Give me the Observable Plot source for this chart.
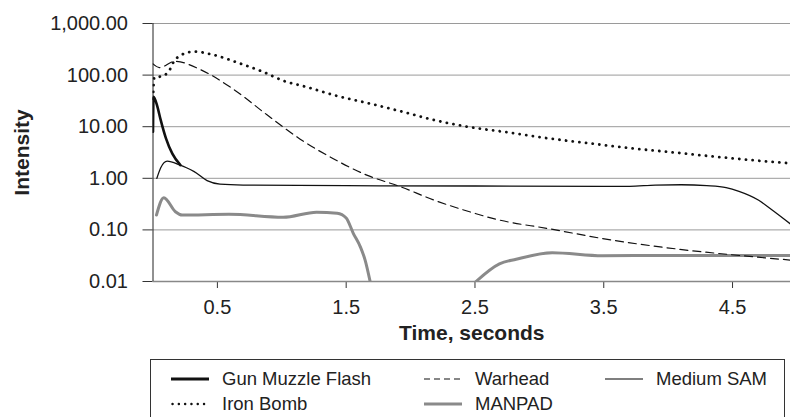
<!DOCTYPE html>
<html>
<head>
<meta charset="utf-8">
<script src="https://cdn.jsdelivr.net/npm/d3@7"></script>
<script src="https://cdn.jsdelivr.net/npm/@observablehq/plot@0.6"></script>
<style>
  html, body { margin: 0; padding: 0; background: #fff; }
  #wrap { position: relative; width: 790px; height: 417px; overflow: hidden; font-family: "Liberation Sans", Arial, sans-serif; color: #222; }
  #legend { position: absolute; left: 150px; top: 359px; width: 635px; height: 80px; border: 1.5px solid #333; box-sizing: border-box; }
  .item { position: absolute; font-size: 18.5px; line-height: 20px; white-space: nowrap; }
  .item svg { position: absolute; top: 0; }
</style>
</head>
<body>
<div id="wrap"><div id="chart"></div><div id="legend"></div></div>
<script>
// ---- data ----
const xTicks = [0.5, 1.5, 2.5, 3.5, 4.5];
const yTicks = [0.01, 0.1, 1, 10, 100, 1000];

const gunT = [0, 0.004, 0.033, 0.058, 0.10, 0.15, 0.213];
const gunV = [8, 38, 25, 14, 6, 3, 1.8];

const warheadT = [0, 0.05, 0.17, 0.37, 0.63, 0.885, 1.14, 1.4, 1.66, 1.92, 2.18, 2.47, 2.69, 3.06, 3.57, 4.09, 4.61, 4.95];
const warheadV = [165, 140, 185, 127, 52, 17, 5.8, 2.4, 1.15, 0.69, 0.38, 0.22, 0.155, 0.107, 0.063, 0.042, 0.031, 0.026];

const ironT = [0, 0.01, 0.06, 0.12, 0.16, 0.25, 0.32, 0.46, 0.67, 0.85, 1.03, 1.18, 1.42, 1.66, 1.92, 2.18, 2.44, 2.75, 3.06, 3.38, 3.70, 4.03, 4.35, 4.65, 4.95];
const ironV = [35, 90, 94, 115, 180, 265, 285, 250, 170, 117, 75, 60, 40, 29, 20, 13.5, 10, 7.8, 6.0, 4.8, 3.85, 3.2, 2.65, 2.25, 1.95];

const samT = [0.03, 0.06, 0.11, 0.21, 0.26, 0.32, 0.42, 0.52, 0.7, 1.5, 2.5, 3.5, 3.7, 3.9, 4.1, 4.3, 4.45, 4.55, 4.7, 4.81, 4.95];
const samV = [1.0, 1.6, 2.15, 1.8, 1.6, 1.35, 0.9, 0.77, 0.74, 0.72, 0.71, 0.7, 0.7, 0.74, 0.75, 0.72, 0.66, 0.56, 0.38, 0.24, 0.13];

const manpadT = [0.027, 0.084, 0.174, 0.226, 0.59, 1.01, 1.27, 1.43, 1.5, 1.556, 1.61, 1.647, 1.686, 2.0, 2.508, 2.69, 2.82, 3.1, 3.49, 4.0, 4.95];
const manpadV = [0.194, 0.42, 0.225, 0.194, 0.2, 0.175, 0.22, 0.21, 0.17, 0.085, 0.047, 0.026, 0.01, null, 0.01, 0.022, 0.027, 0.036, 0.0315, 0.032, 0.032];

const seriesNames = ["Gun Muzzle Flash", "Warhead", "Medium SAM", "Iron Bomb", "MANPAD"];

const toRows = (T, V) => T.map((t, i) => ({t, v: V[i]}));
const gun = toRows(gunT, gunV);
const warhead = toRows(warheadT, warheadV);
const iron = toRows(ironT, ironV);
const sam = toRows(samT, samV);
const manpad = toRows(manpadT, manpadV);

const curve = "monotone-x";
const chart = Plot.plot({
  width: 790,
  height: 345,
  marginLeft: 152.5,
  marginRight: 0,
  marginTop: 23,
  marginBottom: 64,
  style: {fontFamily: "Liberation Sans, Arial, sans-serif", fontSize: "20px", color: "#222", background: "#fff", overflow: "visible"},
  x: {domain: [0, 4.95]},
  y: {type: "log", domain: [0.01, 1000]},
  marks: [
    Plot.gridY(yTicks, {stroke: "#9a9a9a", strokeOpacity: 1}),
    Plot.axisY({ticks: yTicks, tickFormat: d3.format(",.2f"), tickSize: 10, tickPadding: 15, label: null, stroke: "#333"}),
    Plot.axisX({ticks: xTicks, tickFormat: d => d.toFixed(1), tickSize: 7, tickPadding: 11, label: null, stroke: "#333"}),
    Plot.ruleY([0.01], {stroke: "#888", strokeWidth: 1.5}),
    Plot.ruleX([0], {stroke: "#222", strokeWidth: 1}),
    Plot.line(manpad, {x: "t", y: "v", curve, stroke: "#8a8a8a", strokeWidth: 3, clip: true}),
    Plot.line(sam, {x: "t", y: "v", curve, stroke: "#111", strokeWidth: 1.3, clip: true}),
    Plot.line(warhead, {x: "t", y: "v", curve, stroke: "#111", strokeWidth: 1.2, strokeDasharray: "8,5", clip: true}),
    Plot.line(iron, {x: "t", y: "v", curve, stroke: "#111", strokeWidth: 2.8, strokeDasharray: "0.1,6.6", strokeLinecap: "round", clip: true}),
    Plot.line(gun, {x: "t", y: "v", curve, stroke: "#111", strokeWidth: 2.6, clip: true}),
    Plot.text(["Intensity"], {frameAnchor: "left", dx: -131, rotate: -90, textAnchor: "middle", lineAnchor: "middle", fontWeight: "bold", fontSize: 21, fill: "#222"}),
    Plot.text(["Time, seconds"], {frameAnchor: "bottom", dy: 52, textAnchor: "middle", lineAnchor: "middle", fontWeight: "bold", fontSize: 21, fill: "#222"})
  ]
});
document.getElementById("chart").appendChild(chart);

// ---- legend ----
const legendItems = [
  {name: seriesNames[0], left: 20, top: 9, sw: {stroke: "#111", w: 3, dash: null}},
  {name: seriesNames[1], left: 273, top: 9, sw: {stroke: "#111", w: 1.2, dash: "6,4"}},
  {name: seriesNames[2], left: 454, top: 9, sw: {stroke: "#555", w: 1.5, dash: null}},
  {name: seriesNames[3], left: 20, top: 34, sw: {stroke: "#111", w: 2.4, dash: "0.1,6.2", cap: "round"}},
  {name: seriesNames[4], left: 273, top: 34, sw: {stroke: "#8a8a8a", w: 3, dash: null}}
];
const legend = document.getElementById("legend");
legendItems.forEach(it => {
  const d = document.createElement("div");
  d.className = "item";
  d.style.left = it.left + "px";
  d.style.top = it.top + "px";
  d.style.paddingLeft = "51px";
  const s = d3.create("svg").attr("width", 40).attr("height", 20).style("left", "0px");
  s.append("line").attr("x1", it.sw.cap ? 1.5 : 0).attr("x2", 38).attr("y1", 10).attr("y2", 10)
    .attr("stroke", it.sw.stroke).attr("stroke-width", it.sw.w)
    .attr("stroke-dasharray", it.sw.dash).attr("stroke-linecap", it.sw.cap || "butt");
  d.appendChild(s.node());
  d.appendChild(document.createTextNode(it.name));
  legend.appendChild(d);
});
</script>
</body>
</html>
